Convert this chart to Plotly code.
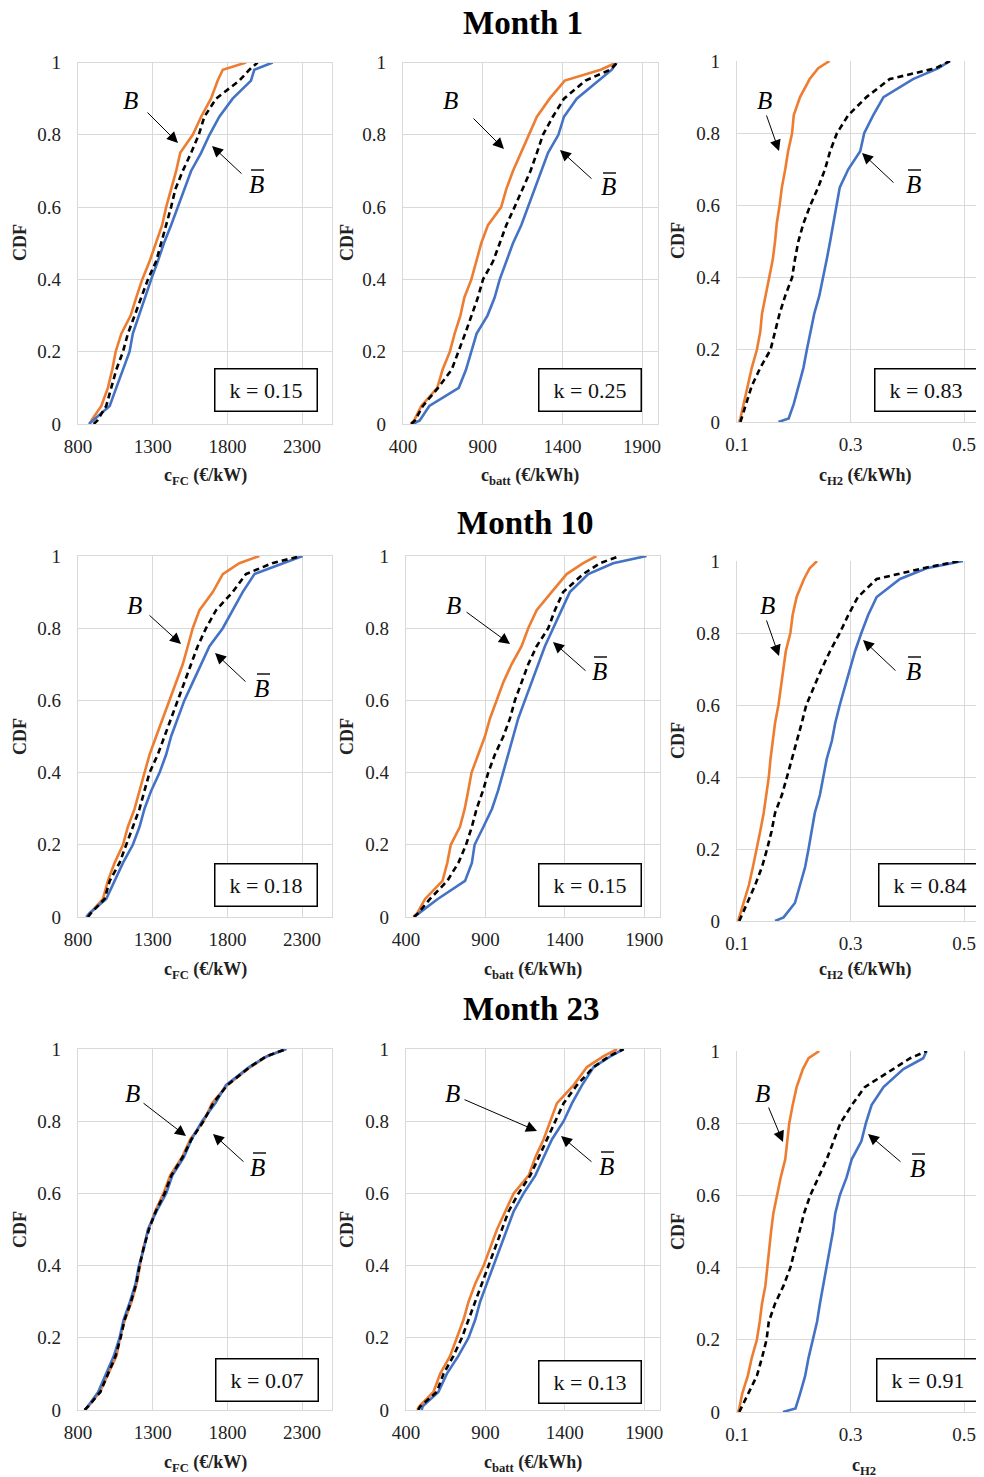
import plotly.graph_objects as go

PAGE_W, PAGE_H = 984, 1477
OFF = 8  # default page body margin
W, H = PAGE_W - OFF, PAGE_H - OFF

# CDF levels at which the curve x-values were read
LEVELS = [0, 0.01, 0.05, 0.10, 0.15, 0.20, 0.25, 0.30, 0.35, 0.40, 0.45, 0.50,
          0.55, 0.60, 0.65, 0.70, 0.75, 0.80, 0.85, 0.90, 0.95, 0.98, 1.00]

# ---------------- Month 1 ----------------
M1_FC_B = [878, 890, 956, 1000, 1029, 1052, 1090, 1152, 1190, 1230, 1279, 1323,
           1363, 1390, 1423, 1457, 1484, 1568, 1624, 1690, 1735, 1769, 1925]
M1_FC_MEAN = [905, 930, 989, 1023, 1056, 1101, 1134, 1179, 1223, 1268, 1323, 1357,
              1390, 1423, 1452, 1501, 1557, 1608, 1646, 1724, 1880, 1947, 2002]
M1_FC_BBAR = [873, 900, 1012, 1056, 1101, 1145, 1167, 1207, 1245, 1290, 1334, 1375,
              1423, 1468, 1512, 1557, 1624, 1680, 1746, 1835, 1958, 1980, 2103]

M1_BATT_B = [448, 470, 515, 615, 648, 694, 724, 760, 785, 829, 860, 891,
             933, 1016, 1048, 1090, 1140, 1190, 1240, 1320, 1415, 1640, 1740]
M1_BATT_MEAN = [452, 475, 525, 620, 705, 750, 790, 830, 870, 902, 965, 1007,
                1048, 1100, 1152, 1200, 1240, 1278, 1340, 1410, 1545, 1700, 1745]
M1_BATT_BBAR = [462, 505, 565, 750, 795, 829, 862, 930, 975, 1007, 1048, 1090,
                1142, 1184, 1226, 1272, 1310, 1375, 1410, 1490, 1630, 1710, 1740]

M1_H2_B = [0.1035, 0.106, 0.1117, 0.119, 0.126, 0.135, 0.141, 0.144, 0.150, 0.156, 0.163, 0.167,
           0.170, 0.175, 0.179, 0.185, 0.190, 0.197, 0.200, 0.211, 0.228, 0.243, 0.263]
M1_H2_MEAN = [0.106, 0.108, 0.115, 0.126, 0.141, 0.159, 0.167, 0.175, 0.185, 0.197, 0.202, 0.208,
              0.217, 0.229, 0.243, 0.255, 0.264, 0.276, 0.296, 0.328, 0.369, 0.450, 0.475]
M1_H2_BBAR = [0.173, 0.191, 0.200, 0.208, 0.217, 0.223, 0.229, 0.236, 0.245, 0.252, 0.258, 0.264,
              0.270, 0.275, 0.281, 0.296, 0.317, 0.324, 0.340, 0.358, 0.410, 0.455, 0.475]

# ---------------- Month 10 ----------------
M10_FC_B = [856, 880, 967, 1000, 1045, 1101, 1134, 1179, 1212, 1245, 1279, 1323,
            1367, 1412, 1457, 1501, 1535, 1568, 1613, 1702, 1769, 1880, 2014]
M10_FC_MEAN = [867, 885, 978, 1012, 1078, 1123, 1167, 1212, 1245, 1279, 1334, 1379,
               1423, 1468, 1512, 1557, 1601, 1657, 1724, 1835, 1924, 2100, 2292]
M10_FC_BBAR = [856, 875, 989, 1045, 1101, 1167, 1212, 1245, 1290, 1346, 1390, 1423,
               1468, 1512, 1568, 1624, 1680, 1769, 1835, 1902, 1981, 2170, 2303]

M10_BATT_B = [446, 470, 520, 630, 660, 682, 740, 770, 792, 813, 855, 897,
              929, 971, 1013, 1065, 1128, 1170, 1223, 1317, 1412, 1516, 1600]
M10_BATT_MEAN = [450, 475, 551, 660, 730, 778, 815, 845, 885, 918, 960, 1013,
                 1055, 1086, 1128, 1170, 1223, 1296, 1338, 1390, 1516, 1621, 1747]
M10_BATT_BBAR = [452, 480, 600, 772, 815, 832, 888, 942, 980, 1013, 1044, 1076,
                 1107, 1149, 1191, 1233, 1275, 1327, 1380, 1432, 1548, 1705, 1915]

M10_H2_B = [0.102, 0.104, 0.111, 0.121, 0.128, 0.135, 0.141, 0.147, 0.152, 0.156, 0.159, 0.163,
            0.167, 0.173, 0.177, 0.182, 0.186, 0.194, 0.198, 0.205, 0.218, 0.228, 0.241]
M10_H2_MEAN = [0.104, 0.107, 0.118, 0.132, 0.144, 0.153, 0.161, 0.167, 0.179, 0.188, 0.197, 0.205,
               0.214, 0.222, 0.235, 0.249, 0.264, 0.281, 0.296, 0.313, 0.346, 0.428, 0.492]
M10_H2_BBAR = [0.167, 0.182, 0.202, 0.211, 0.220, 0.226, 0.232, 0.237, 0.246, 0.252, 0.258, 0.267,
               0.273, 0.281, 0.290, 0.299, 0.308, 0.319, 0.331, 0.346, 0.387, 0.434, 0.498]

# ---------------- Month 23 ----------------
M23_FC_B = [845, 870, 946, 1002, 1058, 1081, 1114, 1159, 1193, 1215, 1238, 1271,
            1316, 1372, 1417, 1496, 1552, 1641, 1697, 1798, 1955, 2067, 2190]
M23_FC_MEAN = [845, 868, 950, 1000, 1052, 1085, 1112, 1155, 1190, 1212, 1240, 1275,
               1320, 1380, 1425, 1500, 1560, 1640, 1705, 1800, 1950, 2060, 2195]
M23_FC_BBAR = [845, 865, 935, 990, 1040, 1078, 1105, 1148, 1185, 1208, 1243, 1268,
               1325, 1390, 1432, 1508, 1560, 1630, 1720, 1790, 1945, 2065, 2195]

M23_BATT_B = [471, 484, 573, 615, 678, 720, 762, 794, 836, 889, 931, 973,
              1025, 1078, 1173, 1215, 1267, 1309, 1351, 1456, 1540, 1645, 1730]
M23_BATT_MEAN = [477, 490, 594, 636, 699, 752, 794, 836, 878, 920, 962, 1004,
                 1046, 1109, 1183, 1236, 1288, 1341, 1393, 1477, 1582, 1680, 1771]
M23_BATT_BBAR = [499, 505, 604, 657, 730, 794, 836, 867, 909, 951, 993, 1035,
                 1078, 1141, 1215, 1267, 1320, 1393, 1446, 1509, 1582, 1690, 1771]

M23_H2_B = [0.102, 0.104, 0.109, 0.119, 0.126, 0.135, 0.140, 0.144, 0.150, 0.153, 0.157, 0.160,
            0.164, 0.170, 0.177, 0.185, 0.189, 0.192, 0.198, 0.205, 0.216, 0.226, 0.245]
M23_H2_MEAN = [0.104, 0.107, 0.119, 0.135, 0.144, 0.152, 0.156, 0.167, 0.182, 0.194, 0.202, 0.210,
               0.218, 0.229, 0.243, 0.258, 0.270, 0.282, 0.302, 0.325, 0.375, 0.405, 0.434]
M23_H2_BBAR = [0.181, 0.203, 0.211, 0.220, 0.226, 0.234, 0.241, 0.246, 0.252, 0.258, 0.264, 0.269,
               0.273, 0.281, 0.293, 0.302, 0.319, 0.327, 0.337, 0.358, 0.393, 0.428, 0.434]

K_VALUES = ["0.15", "0.25", "0.83", "0.18", "0.15", "0.84", "0.07", "0.13", "0.91"]
MONTH_TITLES = ["Month 1", "Month 10", "Month 23"]
Y_TICKS = [0, 0.2, 0.4, 0.6, 0.8, 1]
FC_TICKS = [800, 1300, 1800, 2300]
BATT_TICKS = [400, 900, 1400, 1900]
H2_TICKS = [0.1, 0.3, 0.5]
XTITLES = ["c<sub>FC</sub> (€/kW)", "c<sub>batt</sub> (€/kWh)", "c<sub>H2</sub> (€/kWh)"]

ORANGE = "#ED7D31"
BLUE = "#4472C4"
GRID = "#d9d9d9"
FONT = "Liberation Serif"

series = [
    (M1_FC_B, M1_FC_MEAN, M1_FC_BBAR), (M1_BATT_B, M1_BATT_MEAN, M1_BATT_BBAR), (M1_H2_B, M1_H2_MEAN, M1_H2_BBAR),
    (M10_FC_B, M10_FC_MEAN, M10_FC_BBAR), (M10_BATT_B, M10_BATT_MEAN, M10_BATT_BBAR), (M10_H2_B, M10_H2_MEAN, M10_H2_BBAR),
    (M23_FC_B, M23_FC_MEAN, M23_FC_BBAR), (M23_BATT_B, M23_BATT_MEAN, M23_BATT_BBAR), (M23_H2_B, M23_H2_MEAN, M23_H2_BBAR),
]

# page-pixel layout of each panel: (x0, x1, y0, y1)
boxes = [
    (78, 332, 62.5, 424), (403, 658, 62.5, 424), (737, 984, 61, 422),
    (78, 332, 556, 917), (406, 660, 556, 917), (737, 984, 561, 921),
    (78, 332, 1049, 1410), (406, 660, 1049, 1410), (737, 984, 1051, 1412),
]
xranges = [[800, 2500], [400, 2000], [0.1, 0.535]]
xticks = [FC_TICKS, BATT_TICKS, H2_TICKS]


def fx(p):
    return min(1.0, max(0.0, (p - OFF) / W))


def fy(p):
    return min(1.0, max(0.0, 1 - (p - OFF) / H))


fig = go.Figure()
layout = {}
for i, (b, m, bb) in enumerate(series):
    col = i % 3
    n = "" if i == 0 else str(i + 1)
    xa, ya = "x" + n, "y" + n
    for vals, color, dash in [(b, ORANGE, "solid"), (bb, BLUE, "solid"), (m, "black", "6px,4px")]:
        fig.add_trace(go.Scatter(x=vals, y=LEVELS, mode="lines", xaxis=xa, yaxis=ya,
                                 line=dict(color=color, width=2.6, dash=dash),
                                 showlegend=False, hoverinfo="skip"))
    x0, x1, y0, y1 = boxes[i]
    mirror = col < 2
    layout["xaxis" + n] = dict(domain=[fx(x0), fx(x1)], anchor=ya, range=xranges[col],
                               tickvals=xticks[col], showgrid=True, gridcolor=GRID, gridwidth=1.3,
                               zeroline=False, showline=True, linecolor=GRID, linewidth=1.3, mirror=mirror,
                               ticks="outside", ticklen=5, tickcolor="rgba(0,0,0,0)", automargin=False,
                               tickfont=dict(family=FONT, size=19, color="#222"))
    layout["yaxis" + n] = dict(domain=[fy(y1), fy(y0)], anchor=xa, range=[0, 1],
                               tickvals=Y_TICKS, showgrid=True, gridcolor=GRID, gridwidth=1.3,
                               zeroline=False, showline=True, linecolor=GRID, linewidth=1.3, mirror=mirror,
                               ticks="outside", ticklen=12, tickcolor="rgba(0,0,0,0)", automargin=False,
                               tickfont=dict(family=FONT, size=19, color="#222"))

annotations = []
shapes = []

# month titles
for t, (cx, cy) in zip(MONTH_TITLES, [(523, 23), (525, 523), (531, 1009)]):
    annotations.append(dict(text="<b>%s</b>" % t, x=fx(cx), y=fy(cy), xref="paper", yref="paper",
                            showarrow=False, xanchor="center", yanchor="middle", height=28, valign="middle",
                            font=dict(family=FONT, size=33, color="black")))

# axis titles
xt_pos = [[(205, 476), (530, 476), (865, 476)],
          [(205, 970), (533, 970), (865, 970)],
          [(205, 1463), (533, 1463), (864, 1466)]]
cdf_pos = [[(20, 243), (347, 243), (678, 241)],
           [(20, 737), (347, 737), (678, 741)],
           [(20, 1230), (347, 1230), (678, 1232)]]
for r in range(3):
    for c in range(3):
        txt = XTITLES[c]
        if r == 2 and c == 2:
            txt = "c<sub>H2</sub>"
        cx, cy = xt_pos[r][c]
        annotations.append(dict(text="<b>%s</b>" % txt, x=fx(cx), y=fy(cy), xref="paper", yref="paper",
                                showarrow=False, xanchor="center", yanchor="middle",
                                font=dict(family=FONT, size=18, color="#222")))
        cx, cy = cdf_pos[r][c]
        annotations.append(dict(text="<b>CDF</b>", x=fx(cx), y=fy(cy), xref="paper", yref="paper",
                                showarrow=False, xanchor="center", yanchor="middle", textangle=-90,
                                font=dict(family=FONT, size=18, color="#222")))

# k boxes
k_centers = [(265.5, 389.5), (590, 389.5), (926, 389.5),
             (265.5, 884.5), (590, 884.5), (930, 884.5),
             (267, 1379.5), (590, 1381.5), (927.5, 1379.5)]
for k, (cx, cy) in zip(K_VALUES, k_centers):
    annotations.append(dict(text="k = %s" % k, x=fx(cx), y=fy(cy), xref="paper", yref="paper",
                            showarrow=False, xanchor="center", yanchor="middle",
                            width=99, height=39, borderpad=1, bordercolor="black", borderwidth=1.5,
                            bgcolor="white", font=dict(family=FONT, size=22, color="#111")))

# B labels + arrows: (label pos, tail, head)
b_labels = [
    ((131, 100), (146, 111), (178, 143)), ((450, 100), (472, 117), (504, 149)), ((764, 100), (766, 114), (779, 151)),
    ((135, 605), (148, 614), (181, 644)), ((453, 605), (465, 611), (510, 644)), ((767, 605), (766, 619), (779, 656)),
    ((132, 1093), (142, 1102), (186, 1136)), ((452, 1093), (463, 1099), (537, 1131)), ((762, 1093), (768, 1106), (783, 1142)),
]
bbar_labels = [
    ((256, 184), (243, 175), (212, 146)), ((608, 187), (593, 180), (560, 150)), ((913, 184), (895, 184), (862, 153)),
    ((262, 688), (247, 683), (215, 653)), ((599, 671), (587, 672), (553, 642)), ((913, 671), (897, 672), (863, 640)),
    ((258, 1167), (245, 1163), (213, 1134)), ((606, 1166), (593, 1163), (561, 1136)), ((917, 1168), (902, 1163), (868, 1134)),
]
for group, is_bar in [(b_labels, False), (bbar_labels, True)]:
    for (lx, ly), (tx, ty), (hx, hy) in group:
        annotations.append(dict(text="<i>B</i>", x=fx(lx), y=fy(ly), xref="paper", yref="paper",
                                showarrow=False, xanchor="center", yanchor="middle",
                                font=dict(family=FONT, size=25, color="black")))
        if is_bar:
            shapes.append(dict(type="line", xref="paper", yref="paper",
                               x0=fx(lx - 5), x1=fx(lx + 8), y0=fy(ly - 14), y1=fy(ly - 14),
                               line=dict(color="black", width=1.4)))
        annotations.append(dict(text="", x=fx(hx), y=fy(hy), xref="paper", yref="paper",
                                ax=tx - hx, ay=ty - hy, axref="pixel", ayref="pixel",
                                showarrow=True, arrowhead=2, arrowsize=2.2, arrowwidth=1,
                                arrowcolor="black"))

fig.update_layout(width=W, height=H, margin=dict(l=0, r=0, t=0, b=0, pad=0, autoexpand=False),
                  paper_bgcolor="white", plot_bgcolor="white",
                  annotations=annotations, shapes=shapes, **layout)

fig.write_html("out.html")
